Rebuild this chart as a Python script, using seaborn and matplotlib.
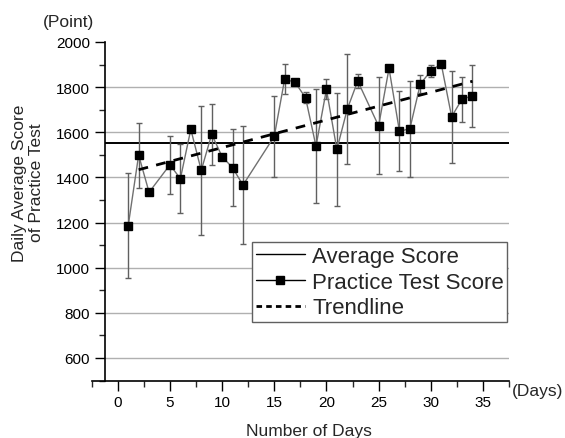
import matplotlib
matplotlib.use("Agg")
import matplotlib.pyplot as plt
from matplotlib.lines import Line2D
from matplotlib.ticker import MultipleLocator
import seaborn as sns
import pandas as pd
import numpy as np

# values
days = [1, 2, 3, 5, 6, 7, 8, 9, 10, 11, 12, 15, 16, 17, 18, 19, 20, 21, 22, 23,
        25, 26, 27, 28, 29, 30, 31, 32, 33, 34]
scores = [1186, 1499, 1334, 1456, 1394, 1613, 1431, 1591, 1492, 1443, 1366, 1582,
          1836, 1821, 1753, 1538, 1790, 1524, 1703, 1827, 1628, 1883, 1604, 1616,
          1814, 1871, 1904, 1669, 1747, 1761]
errors = [234, 144, 0, 128, 153, 0, 287, 135, 0, 170, 260, 180, 68, 0, 25, 252,
          44, 252, 242, 33, 215, 0, 177, 213, 40, 28, 0, 204, 100, 137]
average_score = 1551
trend_days = [2, 34]
trend_scores = [1434, 1826]
y_grid = [600, 800, 1000, 1200, 1400, 1600, 1800]

df = pd.DataFrame({"day": days, "score": scores, "err": errors})

sns.set_theme(style="white")
plt.rcParams['font.family'] = ['Liberation Sans', 'DejaVu Sans']

W, H = 565, 439
fig = plt.figure(figsize=(W / 100, H / 100), dpi=100)
ax = fig.add_axes([91.7 / W, 1 - 381.5 / H, (509 - 91.7) / W, (381.5 - 43) / H])

x_min, x_max = -2.5, 37.5
spine_x = -1.25

ax.hlines(y_grid, spine_x, x_max, colors="#b0b0b0", linewidth=1, zorder=1)
ax.hlines(average_score, spine_x, x_max, colors="black", linewidth=1.4, zorder=2)

ax.errorbar(df["day"], df["score"], yerr=df["err"], fmt="none", ecolor="#606060",
            elinewidth=1, capsize=2.5, capthick=1, zorder=3)
sns.lineplot(data=df, x="day", y="score", ax=ax, color="#707070", linewidth=1,
             zorder=4, legend=False)
ax.plot(df["day"], df["score"], linestyle="none", marker="s", markersize=6,
        color="black", zorder=5)
ax.plot(trend_days, trend_scores, color="black", linestyle=(0, (3.5, 3)),
        linewidth=2, zorder=4)

ax.set_xlim(x_min, x_max)
ax.set_ylim(500, 2000)
ax.xaxis.set_major_locator(MultipleLocator(5))
ax.xaxis.set_minor_locator(MultipleLocator(2.5))
ax.yaxis.set_major_locator(MultipleLocator(200))
ax.yaxis.set_minor_locator(MultipleLocator(100))
ax.set_yticks(range(600, 2001, 200))
ax.tick_params(axis="both", which="major", direction="out", length=7, width=1,
               labelsize=11, colors="black", left=True, bottom=True)
ax.tick_params(axis="both", which="minor", direction="out", length=4, width=1,
               left=True, bottom=True)
for s in ["top", "right"]:
    ax.spines[s].set_visible(False)
ax.spines["left"].set_position(("data", spine_x))
for s in ["left", "bottom"]:
    ax.spines[s].set_color("black")
    ax.spines[s].set_linewidth(1.2)
ax.set_xlabel("")
ax.set_ylabel("")

fig.text(69 / W, 1 - 23 / H, "(Point)", ha="center", va="center", fontsize=12.5)
fig.text(512 / W, 1 - 392 / H, "(Days)", ha="left", va="center", fontsize=12.5)
fig.text(309 / W, 1 - 432 / H, "Number of Days", ha="center", va="center", fontsize=12.5)
fig.text(28 / W, 1 - 183 / H, "Daily Average Score\nof Practice Test", ha="center",
         va="center", rotation=90, fontsize=12.5, linespacing=1.15)

handles = [
    Line2D([], [], color="black", linewidth=1),
    Line2D([], [], color="black", linewidth=1, marker="s", markersize=6),
    Line2D([], [], color="black", linewidth=2, linestyle=(0, (2, 1.5))),
]
leg = ax.legend(handles, ["Average Score", "Practice Test Score", "Trendline"],
                loc="upper left", bbox_to_anchor=(252.3 / W, 1 - 243.3 / H),
                bbox_transform=fig.transFigure, fontsize=16, frameon=True,
                fancybox=False, edgecolor="#606060", framealpha=1,
                handlelength=2.2, handletextpad=0.35, borderpad=0.15,
                labelspacing=0.22, borderaxespad=0)
leg.get_frame().set_linewidth(1)

fig.savefig("out.png", dpi=100)
